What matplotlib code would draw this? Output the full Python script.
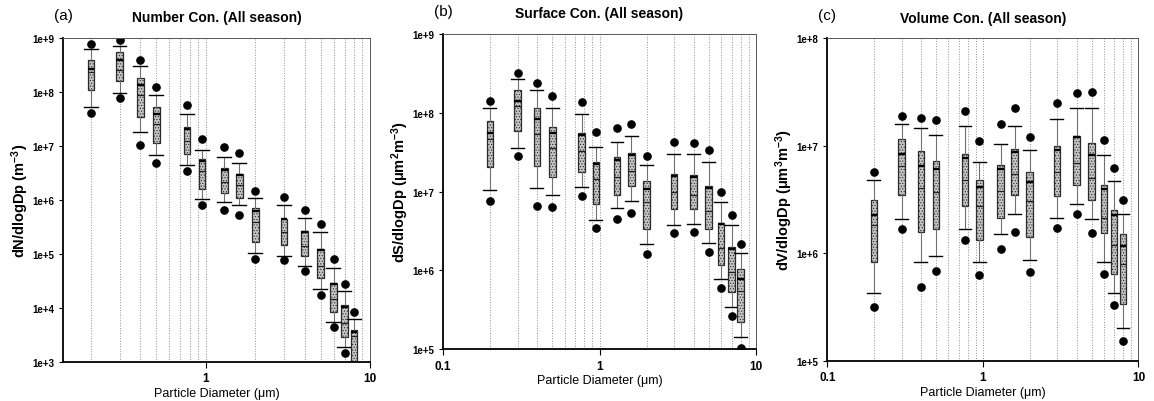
import numpy as np
import matplotlib.pyplot as plt
from matplotlib.ticker import FuncFormatter, NullLocator, NullFormatter, LogLocator, FixedLocator

plt.rcParams['font.family'] = ['Liberation Sans Narrow', 'Liberation Sans', 'DejaVu Sans']
plt.rcParams['mathtext.default'] = 'regular'
plt.rcParams['hatch.linewidth'] = 0.5

# particle diameters (um)
diam = [0.2, 0.3, 0.4, 0.5, 0.77, 0.95, 1.3, 1.6, 2.0, 3.0, 4.0, 5.0, 6.0, 7.0, 8.0]

# all values are log10 of the concentration
# (a) number concentration
num_p95 = [8.88, 8.96, 8.59, 8.09, 7.75, 7.13, 6.99, 6.87, 6.16, 6.05, 5.82, 5.56, 4.91, 4.44, 3.92]
num_p90 = [8.79, 8.86, 8.49, 7.95, 7.60, 6.93, 6.80, 6.69, 6.04, 5.90, 5.67, 5.40, 4.75, 4.31, 3.79]
num_q3 = [8.60, 8.74, 8.26, 7.72, 7.35, 6.76, 6.59, 6.48, 5.85, 5.65, 5.42, 5.09, 4.46, 4.05, 3.59]
num_mean = [8.43, 8.59, 8.13, 7.60, 7.32, 6.72, 6.56, 6.47, 5.80, 5.64, 5.40, 5.08, 4.44, 4.01, 3.55]
num_med = [8.37, 8.40, 7.94, 7.41, 7.10, 6.54, 6.34, 6.27, 5.60, 5.40, 5.15, 4.78, 4.16, 3.73, 3.48]
num_q1 = [8.03, 8.20, 7.53, 7.06, 6.85, 6.20, 6.13, 6.04, 5.23, 5.17, 4.96, 4.55, 3.93, 3.47, 2.80]
num_p10 = [7.73, 7.98, 7.26, 6.84, 6.65, 6.01, 5.96, 5.90, 5.02, 4.97, 4.77, 4.36, 3.74, 3.28, 2.60]
num_p5 = [7.61, 7.89, 7.01, 6.69, 6.53, 5.91, 5.82, 5.72, 4.91, 4.88, 4.69, 4.24, 3.64, 3.17, 2.40]

# (b) surface concentration
surf_p95 = [8.15, 8.51, 8.38, 8.21, 8.14, 7.75, 7.81, 7.86, 7.45, 7.63, 7.62, 7.53, 7.00, 6.70, 6.33]
surf_p90 = [8.06, 8.43, 8.29, 8.06, 7.99, 7.57, 7.63, 7.70, 7.34, 7.48, 7.48, 7.38, 6.87, 6.57, 6.22]
surf_q3 = [7.89, 8.29, 8.06, 7.82, 7.74, 7.38, 7.44, 7.49, 7.13, 7.22, 7.21, 7.07, 6.60, 6.30, 6.02]
surf_mean = [7.74, 8.15, 7.92, 7.74, 7.72, 7.35, 7.40, 7.46, 7.03, 7.20, 7.19, 7.04, 6.59, 6.27, 5.89]
surf_med = [7.67, 8.09, 7.73, 7.55, 7.51, 7.16, 7.18, 7.26, 6.87, 6.99, 6.96, 6.75, 6.29, 5.98, 5.74]
surf_q1 = [7.31, 7.77, 7.32, 7.19, 7.25, 6.84, 6.96, 7.07, 6.53, 6.78, 6.78, 6.52, 6.07, 5.72, 5.35]
surf_p10 = [7.02, 7.55, 7.05, 6.96, 7.06, 6.64, 6.79, 6.88, 6.33, 6.57, 6.59, 6.35, 5.89, 5.53, 5.15]
surf_p5 = [6.88, 7.45, 6.82, 6.81, 6.94, 6.54, 6.65, 6.73, 6.21, 6.47, 6.49, 6.23, 5.77, 5.42, 5.01]

# (c) volume concentration
vol_p95 = [6.76, 7.28, 7.26, 7.24, 7.32, 7.04, 7.20, 7.35, 7.08, 7.40, 7.49, 7.50, 7.05, 6.79, 6.50]
vol_p90 = [6.68, 7.20, 7.17, 7.10, 7.18, 6.85, 7.02, 7.18, 6.96, 7.25, 7.35, 7.35, 6.91, 6.67, 6.37]
vol_q3 = [6.50, 7.06, 6.95, 6.86, 6.92, 6.68, 6.82, 6.97, 6.76, 7.00, 7.09, 7.03, 6.64, 6.40, 6.18]
vol_mean = [6.36, 6.92, 6.81, 6.78, 6.89, 6.62, 6.78, 6.94, 6.66, 6.96, 7.08, 6.91, 6.60, 6.36, 6.07]
vol_med = [6.26, 6.81, 6.61, 6.57, 6.68, 6.44, 6.58, 6.74, 6.49, 6.76, 6.84, 6.70, 6.33, 6.08, 5.90]
vol_q1 = [5.92, 6.54, 6.20, 6.23, 6.44, 6.12, 6.33, 6.54, 6.15, 6.53, 6.64, 6.50, 6.19, 5.81, 5.53]
vol_p10 = [5.63, 6.32, 5.92, 5.98, 6.23, 5.92, 6.18, 6.37, 5.94, 6.33, 6.46, 6.32, 5.92, 5.63, 5.31]
vol_p5 = [5.50, 6.23, 5.69, 5.84, 6.12, 5.80, 6.04, 6.20, 5.83, 6.24, 6.37, 6.19, 5.81, 5.52, 5.19]

panels = [
    ("(a)", "Number Con. (All season)", "dN/dlogDp (m$^{-3}$)", (0.135, 10), (1e3, 1e9), [1, 10],
     (num_p5, num_p10, num_q1, num_med, num_mean, num_q3, num_p90, num_p95)),
    ("(b)", "Surface Con. (All season)", "dS/dlogDp (\u03bcm$^{2}$m$^{-3}$)", (0.1, 10), (1e5, 1e9), [0.1, 1, 10],
     (surf_p5, surf_p10, surf_q1, surf_med, surf_mean, surf_q3, surf_p90, surf_p95)),
    ("(c)", "Volume Con. (All season)", "dV/dlogDp (\u03bcm$^{3}$m$^{-3}$)", (0.1, 10), (1e5, 1e8), [0.1, 1, 10],
     (vol_p5, vol_p10, vol_q1, vol_med, vol_mean, vol_q3, vol_p90, vol_p95)),
]

rects = [[0.0546, 0.097, 0.266, 0.806],
         [0.384, 0.129, 0.271, 0.784],
         [0.717, 0.0995, 0.2695, 0.803]]

fig = plt.figure(figsize=(11.54, 4.02), dpi=100)

for (tag, title, ylab, xlim, ylim, xt, cols), rect in zip(panels, rects):
    ax = fig.add_axes(rect)
    p5, p10, q1, med, mean, q3, p90, p95 = [10 ** np.array(c) for c in cols]
    stats = []
    for i in range(len(diam)):
        stats.append(dict(whislo=p10[i], q1=q1[i], med=med[i], mean=mean[i],
                          q3=q3[i], whishi=p90[i], fliers=[p5[i], p95[i]]))
    d = np.array(diam)
    ax.bxp(stats, positions=d, widths=d * 0.095, capwidths=d * 0.19,
           patch_artist=True, showmeans=True, meanline=True,
           boxprops=dict(facecolor='#c4c4c4', edgecolor='#2a2a2a', linewidth=0.9, hatch='......'),
           medianprops=dict(color='#202020', linewidth=0.9),
           meanprops=dict(color='black', linewidth=1.7, linestyle='-'),
           whiskerprops=dict(color='#707070', linewidth=0.8),
           capprops=dict(color='black', linewidth=1.0),
           flierprops=dict(marker='o', markerfacecolor='black', markeredgecolor='black',
                           markersize=5.2))
    ax.set_xscale('log')
    ax.set_yscale('log')
    ax.set_xlim(*xlim)
    ax.set_ylim(*ylim)
    minor = [m * 10.0 ** k for k in (-1, 0) for m in range(2, 10)]
    minor = [v for v in minor if xlim[0] < v < xlim[1]]
    ax.xaxis.set_major_locator(FixedLocator(xt))
    ax.xaxis.set_minor_locator(FixedLocator(minor))
    ax.xaxis.set_major_formatter(FuncFormatter(lambda v, p: f"{v:g}"))
    ax.xaxis.set_minor_formatter(NullFormatter())
    ax.yaxis.set_major_locator(LogLocator(base=10))
    ax.yaxis.set_minor_locator(NullLocator())
    ax.yaxis.set_major_formatter(FuncFormatter(lambda v, p: f"1e+{int(round(np.log10(v)))}"))
    ax.grid(axis='x', which='both', linestyle=':', color='#909090', linewidth=0.7)
    ax.set_axisbelow(True)
    ax.tick_params(axis='y', labelsize=7, length=3, width=0.8)
    ax.tick_params(axis='x', which='major', labelsize=8.5, length=4, width=0.8)
    ax.tick_params(axis='x', which='minor', length=0)
    for lbl in ax.get_xticklabels() + ax.get_yticklabels():
        lbl.set_fontweight('bold')
    for s in ('left', 'bottom'):
        ax.spines[s].set_linewidth(1.3)
        ax.spines[s].set_color('black')
    for s in ('top', 'right'):
        ax.spines[s].set_linewidth(0.7)
        ax.spines[s].set_color('#555555')
    ax.set_xlabel("Particle Diameter (\u03bcm)", fontsize=9, labelpad=2)
    ax.set_ylabel(ylab, fontsize=10.5, fontweight='bold', labelpad=1)
    ax.set_title(title, fontsize=10, fontweight='bold', pad=12)
    ax.text(-0.03, 1.05, tag, transform=ax.transAxes, fontsize=11, ha='left', va='bottom')

fig.savefig("out.png", dpi=100)
